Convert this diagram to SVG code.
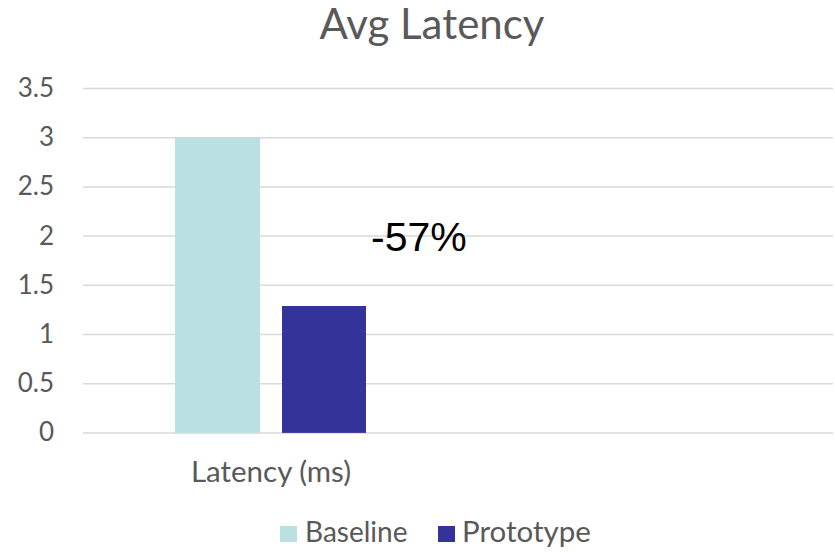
<svg xmlns="http://www.w3.org/2000/svg" width="835" height="552" viewBox="0 0 835 552">
<style>
.grid{stroke:#D9D9D9;stroke-width:1.5}
.ax{font-family:Lato,"Liberation Sans",sans-serif;font-size:28px;fill:#595959}
.yl{text-anchor:end;font-size:26px}
</style>
<rect width="835" height="552" fill="#fff"/>
<text x="432" y="39" text-anchor="middle" style="font-family:Lato,'Liberation Sans',sans-serif;font-size:42px;fill:#595959">Avg Latency</text>
<g id="grid">
<line class="grid" x1="83" y1="88.5" x2="833" y2="88.5"/>
<line class="grid" x1="83" y1="137.7" x2="833" y2="137.7"/>
<line class="grid" x1="83" y1="186.9" x2="833" y2="186.9"/>
<line class="grid" x1="83" y1="236.1" x2="833" y2="236.1"/>
<line class="grid" x1="83" y1="285.3" x2="833" y2="285.3"/>
<line class="grid" x1="83" y1="334.5" x2="833" y2="334.5"/>
<line class="grid" x1="83" y1="383.7" x2="833" y2="383.7"/>
<line class="grid" x1="83" y1="432.9" x2="833" y2="432.9"/>
</g>
<g id="yaxis" class="ax yl">
<text x="54" y="97">3.5</text>
<text x="54" y="146">3</text>
<text x="54" y="195">2.5</text>
<text x="54" y="245">2</text>
<text x="54" y="294">1.5</text>
<text x="54" y="343">1</text>
<text x="54" y="392">0.5</text>
<text x="54" y="441">0</text>
</g>
<g id="bar-baseline"><rect x="175" y="137.7" width="85" height="295.2" fill="#BAE0E3"/></g>
<g id="bar-prototype"><rect x="282" y="306" width="84" height="126.9" fill="#343399"/></g>
<text x="371" y="251" style="font-family:'Liberation Sans',Arial,sans-serif;font-size:41px;fill:#000">-57%</text>
<text class="ax" x="271" y="482" text-anchor="middle" style="font-size:29.5px">Latency (ms)</text>
<g id="legend" class="ax">
<rect x="280" y="526" width="17" height="16" fill="#BAE0E3"/>
<text x="305" y="542">Baseline</text>
<rect x="438" y="526" width="17" height="16" fill="#343399"/>
<text x="462" y="542" style="font-size:29.5px">Prototype</text>
</g>
</svg>
